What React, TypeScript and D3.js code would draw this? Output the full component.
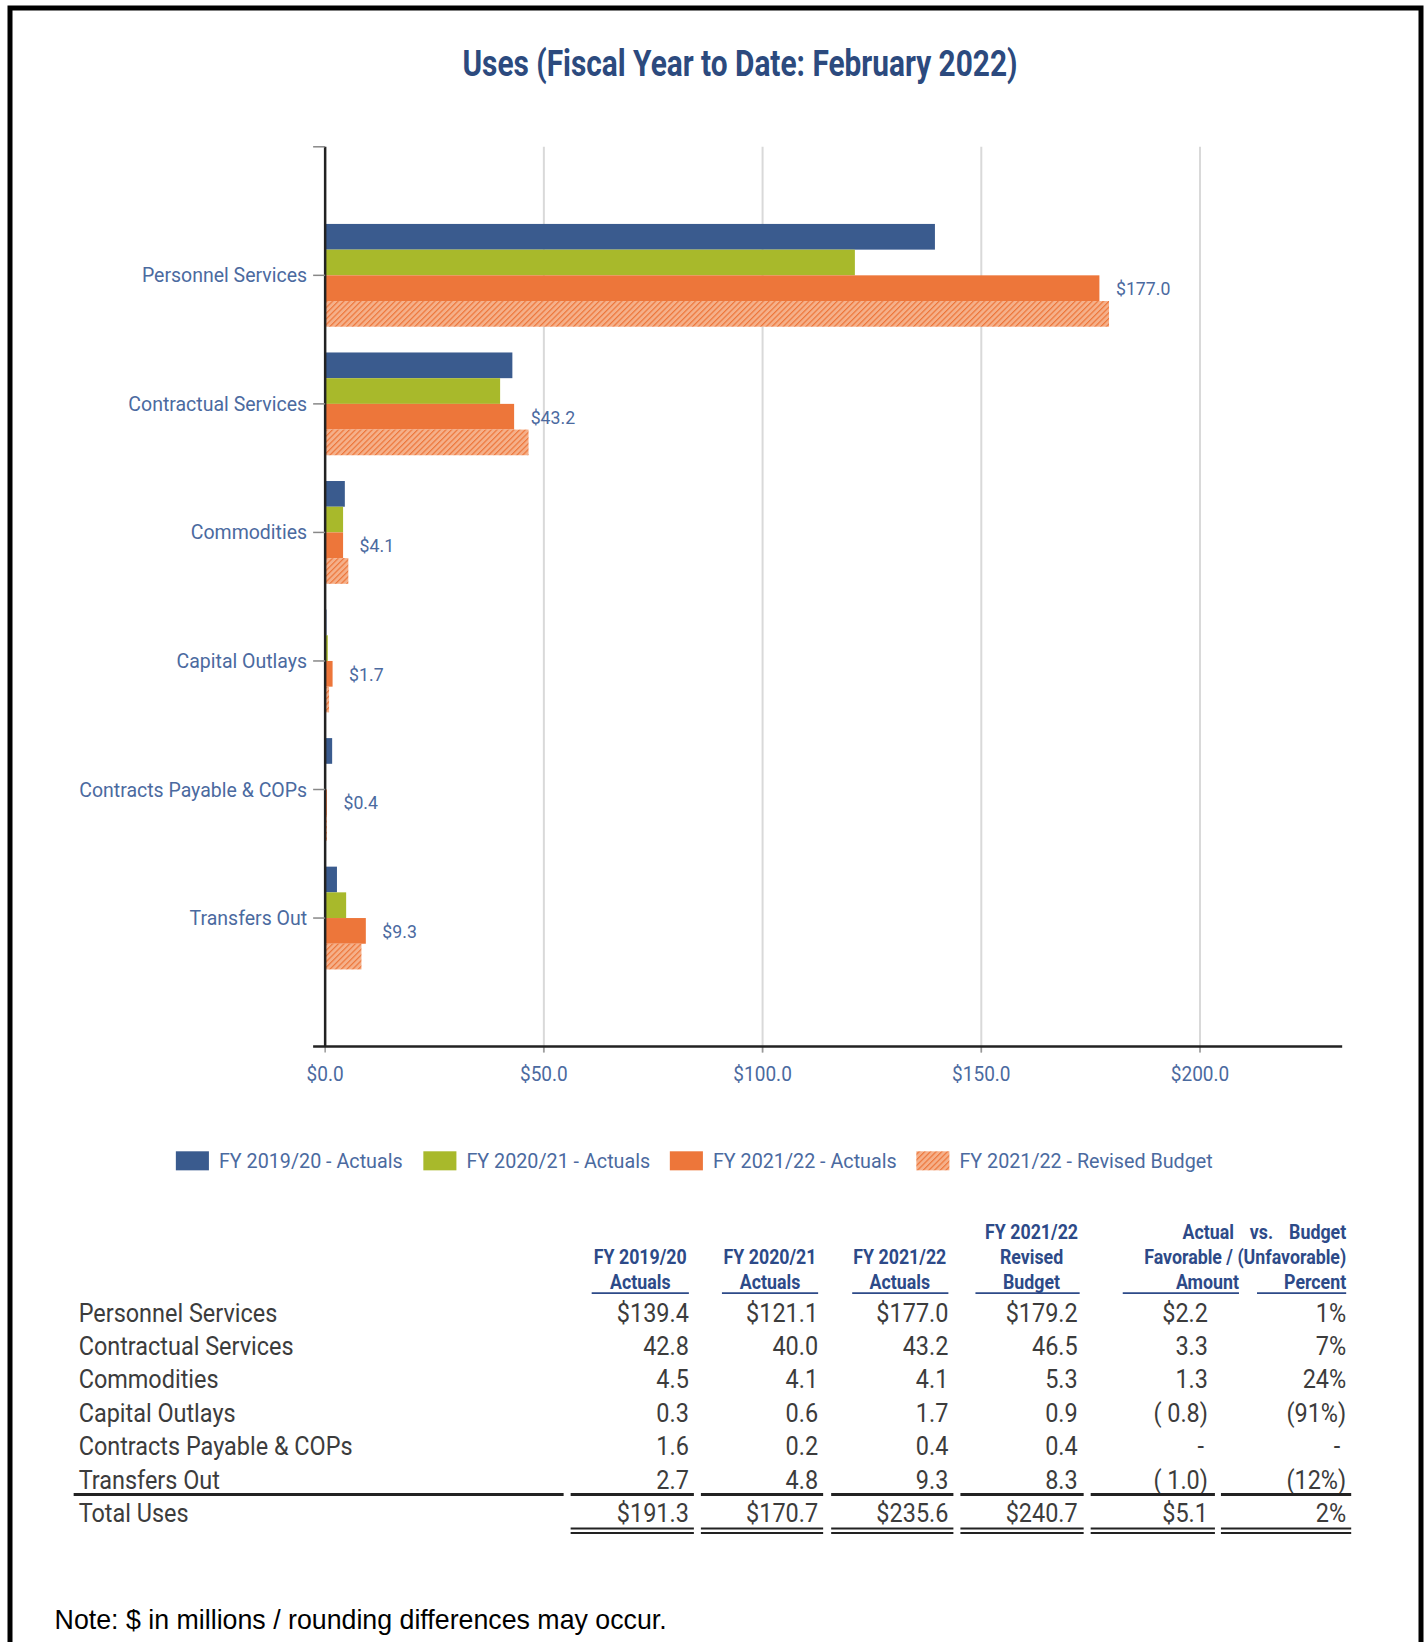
import React from "react";
import * as d3 from "d3";

const categories = [
  "Personnel Services",
  "Contractual Services",
  "Commodities",
  "Capital Outlays",
  "Contracts Payable & COPs",
  "Transfers Out",
];
const seriesNames = [
  "FY 2019/20 - Actuals",
  "FY 2020/21 - Actuals",
  "FY 2021/22 - Actuals",
  "FY 2021/22 - Revised Budget",
];
const fy1920 = [139.4, 42.8, 4.5, 0.3, 1.6, 2.7];
const fy2021 = [121.1, 40.0, 4.1, 0.6, 0.2, 4.8];
const fy2122 = [177.0, 43.2, 4.1, 1.7, 0.4, 9.3];
const budget = [179.2, 46.5, 5.3, 0.9, 0.4, 8.3];
const varAmount = [2.2, 3.3, 1.3, -0.8, 0, -1.0];
const varPercent: (number | null)[] = [1, 7, 24, -91, null, -12];
const totals = [191.3, 170.7, 235.6, 240.7, 5.1];
const totalPercent = 2;
const xTicks = [0, 50, 100, 150, 200];
const xMax = 232.5;

const W = 1427;
const H = 1642;

const C_BLUE = "#3a5b8e";
const C_GREEN = "#a8b92b";
const C_ORANGE = "#ed763a";
const C_LABEL = "#4b6a9f";
const C_TITLE = "#2c4a7e";
const C_HEAD = "#2d4a88";
const C_BODY = "#3c3c3c";
const FONT = "Roboto, 'Open Sans', sans-serif";

function T(props: any) {
  const { x, y, sx = 1, anchor = "start", children, ...rest } = props;
  return (
    <text
      transform={`translate(${x},${y}) scale(${sx},1)`}
      textAnchor={anchor}
      {...rest}
    >
      {children}
    </text>
  );
}

function fmtNum(v: number, dollar: boolean) {
  if (v === 0) return "-";
  if (v < 0) return `( ${Math.abs(v).toFixed(1)})`;
  return (dollar ? "$" : "") + v.toFixed(1);
}
function fmtPct(v: number | null) {
  if (v === null) return "-";
  if (v < 0) return `(${Math.abs(v)}%)`;
  return `${v}%`;
}

export default function App() {
  const x0 = 324;
  const x = d3.scaleLinear().domain([0, xMax]).range([x0, 1339]);
  const yTop = 146;
  const yBot = 1044;
  const y = d3.scalePoint<string>().domain(categories).range([yTop, yBot]).padding(1);
  const inner = d3.scaleBand<number>().domain([0, 1, 2, 3]).range([-51.3, 51.3]);
  const series = [fy1920, fy2021, fy2122, budget];
  const fills = [C_BLUE, C_GREEN, C_ORANGE, "url(#hatch)"];

  const legendX = [175, 422, 668, 914];
  const legendY = 1158;

  const rowY = d3.scaleLinear().domain([0, 6]).range([1309, 1509]);
  const colRight = [687, 816, 946, 1075, 1205, 1343];
  const headCenter = [638.5, 768, 897.5, 1029];
  const underlines: [number, number][] = [
    [590, 687],
    [720, 816],
    [850, 946],
    [973, 1077],
    [1120, 1236],
    [1254, 1343],
  ];
  const segs: [number, number][] = [
    [73, 562],
    [569, 692],
    [699, 821],
    [829, 951],
    [958, 1081],
    [1088, 1212],
    [1218, 1348],
  ];
  const bodySx = 0.9;
  const headSx = 0.845;
  const headFs = 21;

  const tableCols = [fy1920, fy2021, fy2122, budget];

  return (
    <div style={{ position: "absolute", left: 0, top: 0 }}>
      <svg width={W} height={H} viewBox={`0 0 ${W} ${H}`} style={{ display: "block", background: "#fff" }}>
        <defs>
          <pattern id="hatch" patternUnits="userSpaceOnUse" width="4" height="4" patternTransform="rotate(45)">
            <rect width="4" height="4" fill="#f5b08a" />
            <line x1="0" y1="0" x2="0" y2="4" stroke={C_ORANGE} strokeWidth="2.4" />
          </pattern>
        </defs>
        <rect x={0} y={0} width={W} height={H} fill="#fff" />
        <path d={`M10,${H + 10} L10,8 L1421,8 L1421,${H + 10}`} fill="none" stroke="#000" strokeWidth={5} />

        <g transform="translate(0.5,0.5) scale(1.002)">
          <text
            x={738}
            y={75}
            textAnchor="middle"
            fontFamily={FONT}
            fontWeight="bold"
            fontSize={37}
            fill={C_TITLE}
            textLength={554}
            lengthAdjust="spacingAndGlyphs"
          >
            Uses (Fiscal Year to Date: February 2022)
          </text>

          {xTicks.map((t) =>
            t === 0 ? null : (
              <line key={"g" + t} x1={x(t)} x2={x(t)} y1={yTop} y2={yBot + 6} stroke="#d9d9d9" strokeWidth={2} />
            )
          )}
          {xTicks.map((t) => (
            <g key={"xt" + t}>
              <line x1={x(t)} x2={x(t)} y1={yBot} y2={yBot + 6} stroke="#999" strokeWidth={1.5} />
              <T x={x(t)} y={1078} sx={0.95} anchor="middle" fontFamily={FONT} fontSize={20} fill={C_LABEL}>
                {"$" + t.toFixed(1)}
              </T>
            </g>
          ))}

          {categories.map((c, i) => (
            <g key={c} transform={`translate(0,${y(c)})`}>
              {series.map((s, k) => (
                <rect
                  key={k}
                  x={x(0)}
                  y={inner(k)!}
                  width={Math.max(0, x(s[i]) - x(0))}
                  height={inner.bandwidth()}
                  fill={fills[k]}
                />
              ))}
              <T
                x={x(fy2122[i]) + 16.5}
                y={inner(2)! + inner.bandwidth() / 2 + 7}
                sx={0.93}
                fontFamily={FONT}
                fontSize={19}
                fill={C_LABEL}
              >
                {"$" + fy2122[i].toFixed(1)}
              </T>
            </g>
          ))}

          <line x1={x0} x2={x0} y1={yTop} y2={yBot} stroke="#222" strokeWidth={2.5} />
          <line x1={x0 - 12} x2={x0} y1={yTop} y2={yTop} stroke="#888" strokeWidth={1.5} />
          {categories.map((c) => (
            <g key={"yl" + c}>
              <line x1={x0 - 12} x2={x0} y1={y(c)!} y2={y(c)!} stroke="#888" strokeWidth={1.5} />
              <T x={x0 - 18} y={y(c)! + 7} sx={0.95} anchor="end" fontFamily={FONT} fontSize={20.5} fill={C_LABEL}>
                {c}
              </T>
            </g>
          ))}
          <line x1={x0 - 12} x2={1339} y1={yBot} y2={yBot} stroke="#222" strokeWidth={2.5} />

          {seriesNames.map((n, k) => (
            <g key={n}>
              <rect x={legendX[k]} y={legendY - 9.5} width={33} height={19} fill={fills[k]} />
              <T x={legendX[k] + 43} y={legendY + 7} sx={0.985} fontFamily={FONT} fontSize={20} fill={C_LABEL}>
                {n}
              </T>
            </g>
          ))}

          <g fontFamily={FONT} fontWeight="bold" fontSize={headFs} fill={C_HEAD}>
            {["FY 2019/20", "FY 2020/21", "FY 2021/22"].map((h, k) => (
              <g key={h + k}>
                <T x={headCenter[k]} y={1261} sx={headSx} anchor="middle">{h}</T>
                <T x={headCenter[k]} y={1286} sx={headSx} anchor="middle">Actuals</T>
              </g>
            ))}
            <T x={headCenter[3]} y={1236} sx={headSx} anchor="middle">FY 2021/22</T>
            <T x={headCenter[3]} y={1261} sx={headSx} anchor="middle">Revised</T>
            <T x={headCenter[3]} y={1286} sx={headSx} anchor="middle">Budget</T>
            <T x={1231} y={1236} sx={headSx} anchor="end">Actual</T>
            <T x={1270} y={1236} sx={headSx} anchor="end">vs.</T>
            <T x={1343} y={1236} sx={headSx} anchor="end">Budget</T>
            <T x={1343} y={1261} sx={headSx} anchor="end">Favorable / (Unfavorable)</T>
            <T x={1236} y={1286} sx={headSx} anchor="end">Amount</T>
            <T x={1343} y={1286} sx={headSx} anchor="end">Percent</T>
          </g>
          {underlines.map(([a, b], k) => (
            <line key={"ul" + k} x1={a} x2={b} y1={1290} y2={1290} stroke={C_HEAD} strokeWidth={1.6} />
          ))}

          <g fontFamily={FONT} fontSize={26} fill={C_BODY}>
            {categories.map((c, i) => (
              <g key={"row" + c}>
                <T x={78} y={rowY(i) + 9.5} sx={bodySx}>{c}</T>
                {tableCols.map((col, k) => (
                  <T key={k} x={colRight[k]} y={rowY(i) + 9.5} sx={bodySx} anchor="end">
                    {fmtNum(col[i], i === 0)}
                  </T>
                ))}
                <T x={colRight[4] - (varAmount[i] === 0 ? 4 : 0)} y={rowY(i) + 9.5} sx={bodySx} anchor="end">
                  {fmtNum(varAmount[i], i === 0)}
                </T>
                <T x={colRight[5] - (varPercent[i] === null ? 6 : 0)} y={rowY(i) + 9.5} sx={bodySx} anchor="end">
                  {fmtPct(varPercent[i])}
                </T>
              </g>
            ))}
            <T x={78} y={rowY(6) + 9.5} sx={bodySx}>Total Uses</T>
            {totals.map((v, k) => (
              <T key={"tot" + k} x={colRight[k]} y={rowY(6) + 9.5} sx={bodySx} anchor="end">
                {"$" + v.toFixed(1)}
              </T>
            ))}
            <T x={colRight[5]} y={rowY(6) + 9.5} sx={bodySx} anchor="end">{totalPercent + "%"}</T>
          </g>
          {segs.map(([a, b], k) => (
            <line key={"sep" + k} x1={a} x2={b} y1={1491} y2={1491} stroke="#222" strokeWidth={3} />
          ))}
          {segs.slice(1).map(([a, b], k) => (
            <g key={"dbl" + k}>
              <line x1={a} x2={b} y1={1525} y2={1525} stroke="#222" strokeWidth={2} />
              <line x1={a} x2={b} y1={1529.5} y2={1529.5} stroke="#222" strokeWidth={2} />
            </g>
          ))}

          <text x={54} y={1625} fontFamily="'Liberation Sans', Arial, sans-serif" fontSize={26.7} fill="#000">
            Note: $ in millions / rounding differences may occur.
          </text>
        </g>
      </svg>
    </div>
  );
}
